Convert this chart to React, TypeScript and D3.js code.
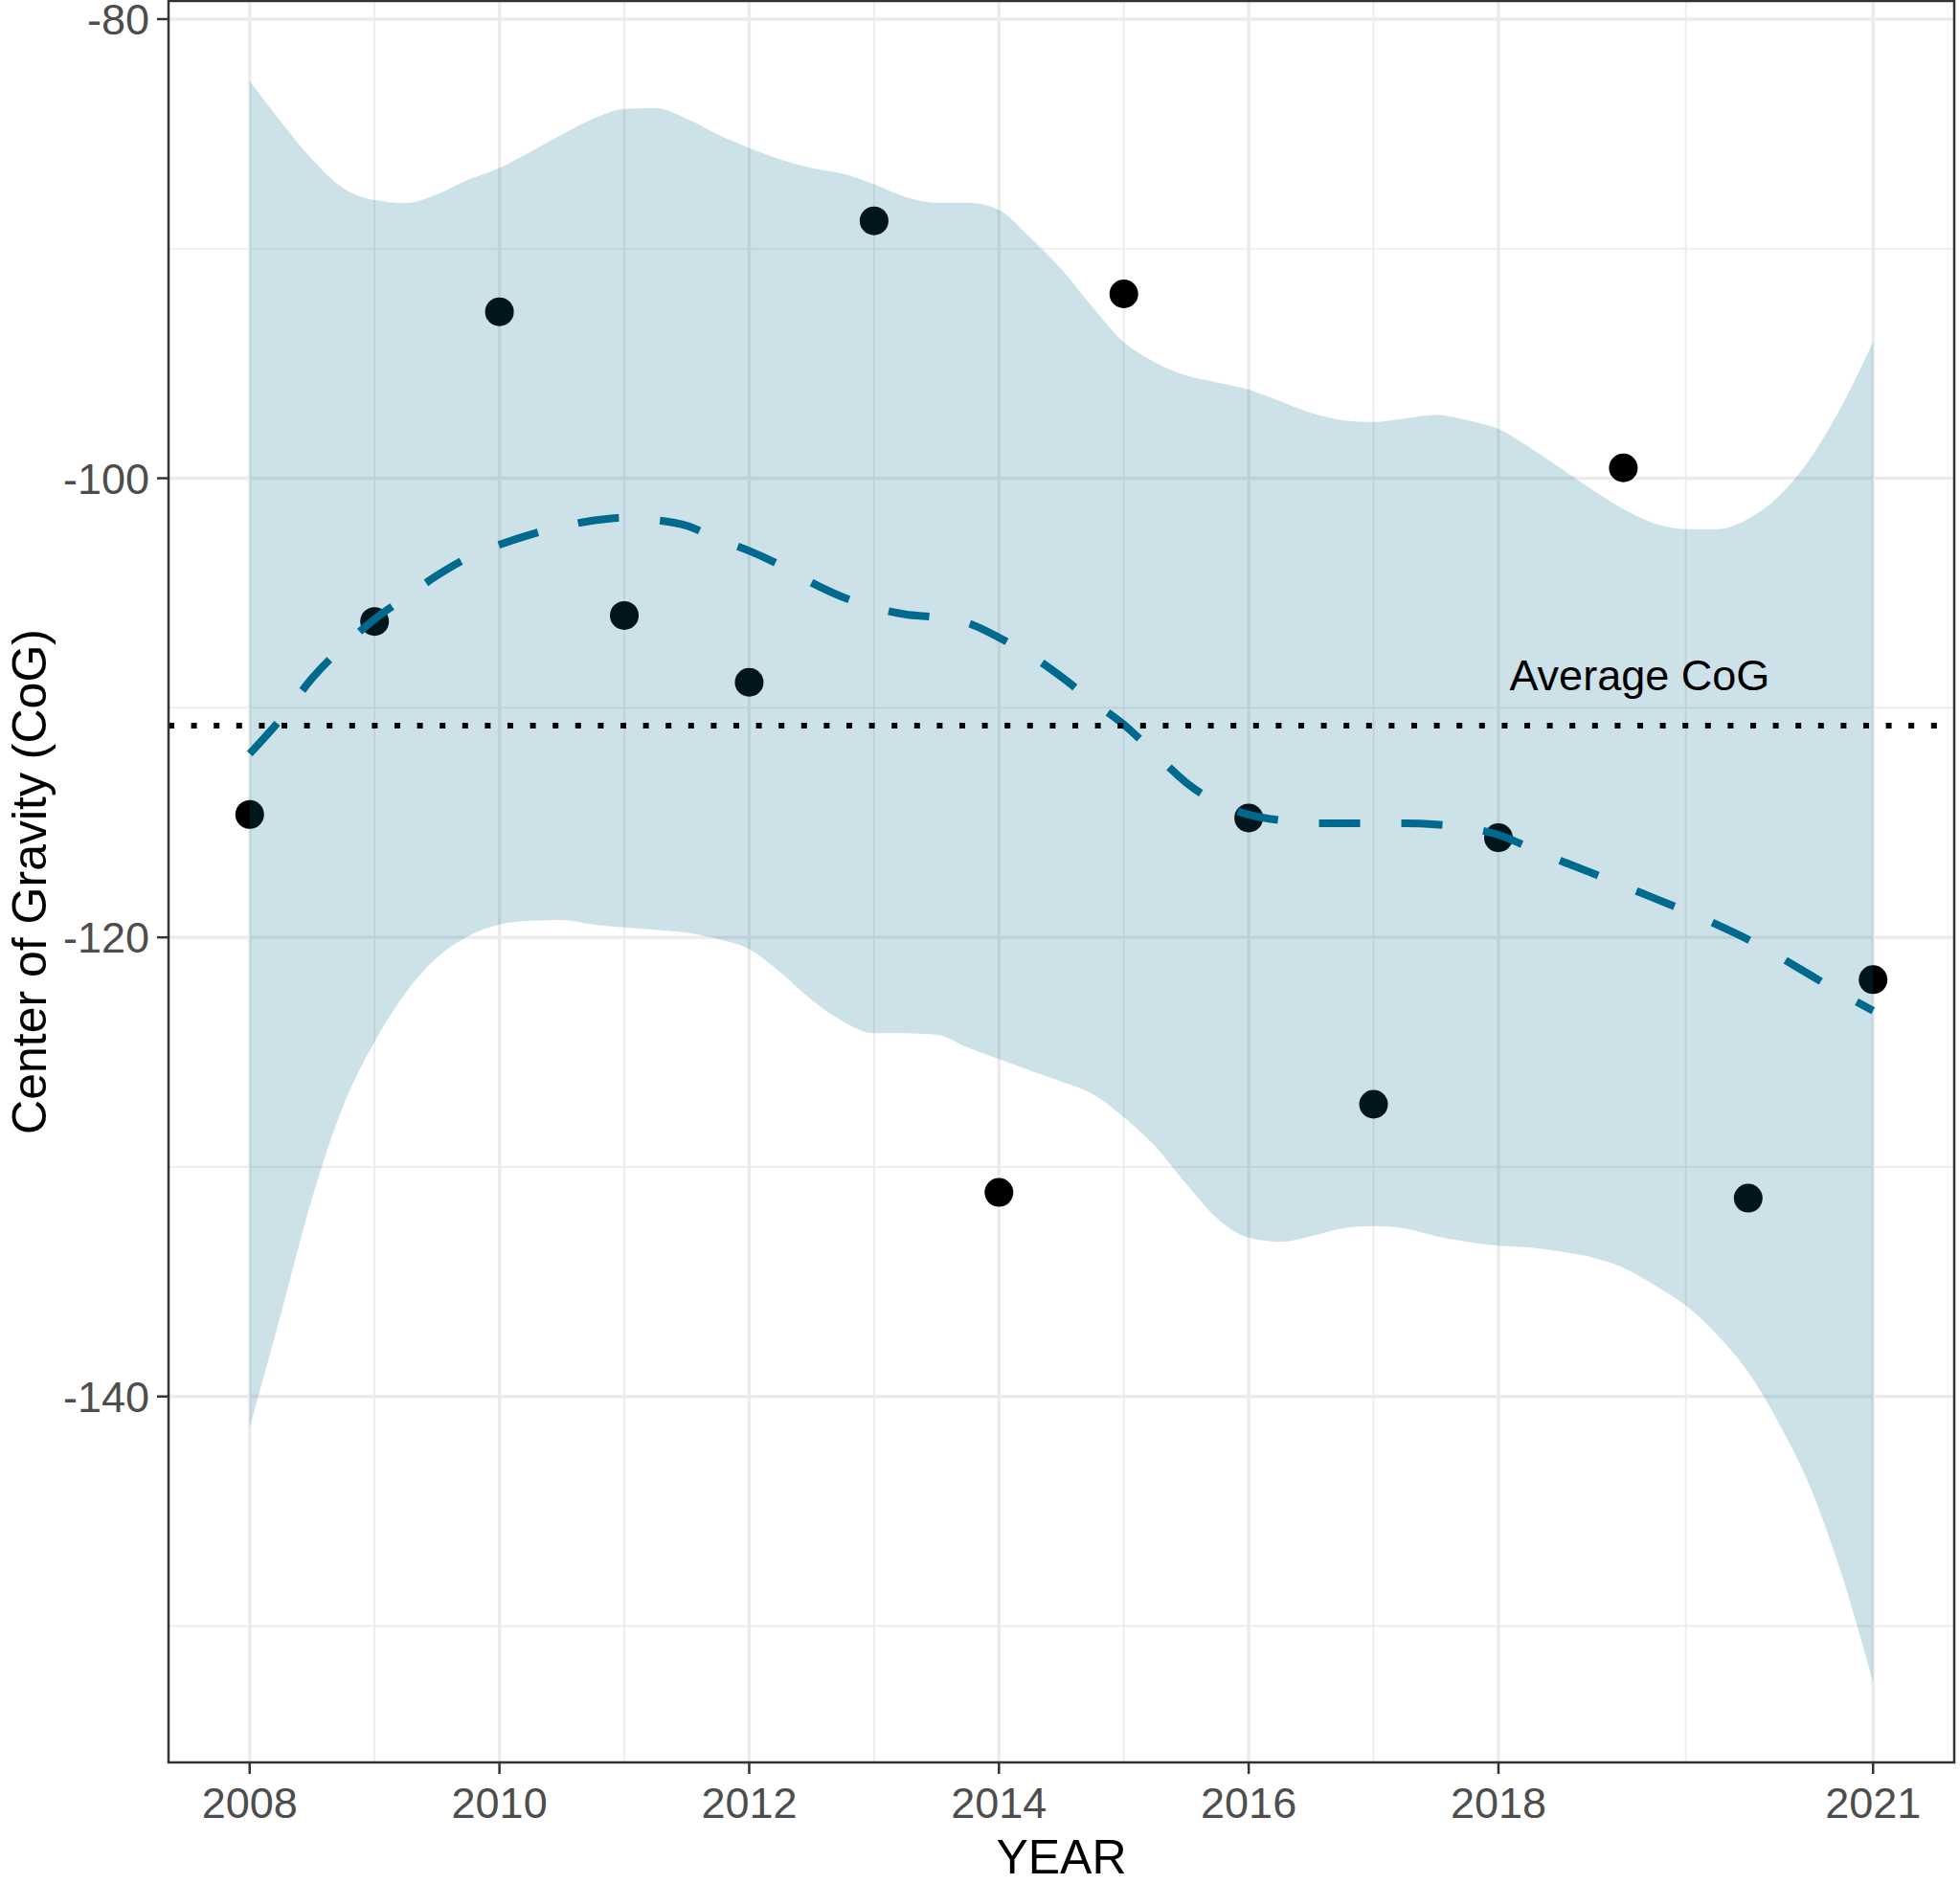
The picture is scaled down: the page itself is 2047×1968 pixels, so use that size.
import * as d3 from "d3";
import { useEffect, useRef } from "react";

// observed centre of gravity per year
const years = [2008, 2009, 2010, 2011, 2012, 2013, 2014, 2015, 2016, 2017, 2018, 2019, 2020, 2021];
const cogValues = [-114.65, -106.24, -92.75, -105.98, -108.89, -88.79, -131.11, -91.97, -114.8, -127.27, -115.66, -99.55, -131.36, -121.84];

// loess smooth (quarter-year samples)
const smoothYears = [
    2008, 2008.25, 2008.5, 2008.75, 2009, 2009.25, 2009.5, 2009.75,
    2010, 2010.25, 2010.5, 2010.75, 2011, 2011.25, 2011.5, 2011.75,
    2012, 2012.25, 2012.5, 2012.75, 2013, 2013.25, 2013.5, 2013.75,
    2014, 2014.25, 2014.5, 2014.75, 2015, 2015.25, 2015.5, 2015.75,
    2016, 2016.25, 2016.5, 2016.75, 2017, 2017.25, 2017.5, 2017.75,
    2018, 2018.25, 2018.5, 2018.75, 2019, 2019.25, 2019.5, 2019.75,
    2020, 2020.25, 2020.5, 2020.75, 2021,
];
const smoothFit = [
    -112.0, -110.48, -108.71, -107.32, -106.14, -105.18, -104.24, -103.46,
    -102.9, -102.45, -102.1, -101.84, -101.72, -101.82, -102.07, -102.65,
    -103.16, -103.79, -104.55, -105.18, -105.63, -105.93, -106.06, -106.31,
    -106.94, -107.7, -108.65, -109.72, -110.73, -112.0, -113.26, -114.14,
    -114.65, -114.9, -115.03, -115.03, -115.03, -115.03, -115.08, -115.23,
    -115.53, -116.09, -116.67, -117.2, -117.75, -118.3, -118.85, -119.45,
    -120.1, -120.85, -121.65, -122.45, -123.2,
];
const smoothUpper = [
    -82.7, -84.47, -86.11, -87.37, -87.88, -88.01, -87.63, -87.0,
    -86.49, -85.78, -85.03, -84.34, -83.91, -83.88, -84.34, -85.03,
    -85.61, -86.11, -86.49, -86.74, -87.2, -87.75, -88.0, -88.0,
    -88.31, -89.52, -90.9, -92.55, -94.07, -94.95, -95.53, -95.83,
    -96.14, -96.64, -97.15, -97.47, -97.55, -97.4, -97.25, -97.47,
    -97.85, -98.66, -99.57, -100.5, -101.34, -101.97, -102.22, -102.22,
    -101.77, -100.76, -99.12, -96.84, -94.07,
];
const smoothLower = [
    -141.34, -136.41, -131.36, -127.32, -124.55, -122.4, -120.88, -119.95,
    -119.44, -119.27, -119.24, -119.44, -119.57, -119.67, -119.8, -120.08,
    -120.51, -121.52, -122.73, -123.66, -124.17, -124.17, -124.24, -124.8,
    -125.3, -125.8, -126.28, -126.82, -127.83, -129.09, -130.73, -132.25,
    -133.08, -133.26, -133.01, -132.68, -132.58, -132.68, -133.01, -133.26,
    -133.43, -133.51, -133.69, -133.94, -134.39, -135.15, -136.04, -137.3,
    -138.94, -141.21, -143.99, -147.78, -152.45,
];

const xTicks = [2008, 2010, 2012, 2014, 2016, 2018, 2021];
const xMinorTicks = [2009, 2011, 2013, 2015, 2017, 2019.5];
const yTicks = [-80, -100, -120, -140];
const yMinorTicks = [-90, -110, -130, -150];

const avgLabel = "Average CoG";
const avgLabelYear = 2019.13;
const avgLabelValue = -109.25;

const WIDTH = 2047;
const HEIGHT = 1968;
const FONT = "'Liberation Sans', Arial, sans-serif";
const SMOOTH_COLOR = "#006a8e";

function drawChart(svgElement: SVGSVGElement) {
    const svg = d3.select(svgElement);
    svg.selectAll("*").remove();

    const panel = { left: 176, right: 2041, top: 1, bottom: 1841 };

    const x = d3.scaleLinear().domain([2007.35, 2021.65]).range([panel.left, panel.right]);
    const y = d3.scaleLinear().domain([-155.94, -79.21]).range([panel.bottom, panel.top]);

    svg.append("rect").attr("width", WIDTH).attr("height", HEIGHT).attr("fill", "#ffffff");

    // Grid lines
    const grid = svg.append("g");
    grid.selectAll(".xminor")
        .data(xMinorTicks)
        .join("line")
        .attr("x1", (d) => x(d))
        .attr("x2", (d) => x(d))
        .attr("y1", panel.top)
        .attr("y2", panel.bottom)
        .attr("stroke", "#ebebeb")
        .attr("stroke-width", 1.7);
    grid.selectAll(".yminor")
        .data(yMinorTicks)
        .join("line")
        .attr("x1", panel.left)
        .attr("x2", panel.right)
        .attr("y1", (d) => y(d))
        .attr("y2", (d) => y(d))
        .attr("stroke", "#ebebeb")
        .attr("stroke-width", 1.7);
    grid.selectAll(".xmajor")
        .data(xTicks)
        .join("line")
        .attr("x1", (d) => x(d))
        .attr("x2", (d) => x(d))
        .attr("y1", panel.top)
        .attr("y2", panel.bottom)
        .attr("stroke", "#ebebeb")
        .attr("stroke-width", 3.4);
    grid.selectAll(".ymajor")
        .data(yTicks)
        .join("line")
        .attr("x1", panel.left)
        .attr("x2", panel.right)
        .attr("y1", (d) => y(d))
        .attr("y2", (d) => y(d))
        .attr("stroke", "#ebebeb")
        .attr("stroke-width", 3.4);

    // Points (under the ribbon, like ggplot draws them)
    svg.append("g")
        .selectAll("circle")
        .data(years)
        .join("circle")
        .attr("cx", (d) => x(d))
        .attr("cy", (_, i) => y(cogValues[i]))
        .attr("r", 15)
        .attr("fill", "#000000");

    // Confidence ribbon
    const band = d3
        .area<number>()
        .x((d) => x(d))
        .y0((_, i) => y(smoothLower[i]))
        .y1((_, i) => y(smoothUpper[i]))
        .curve(d3.curveMonotoneX);
    svg.append("path")
        .datum(smoothYears)
        .attr("d", band)
        .attr("fill", SMOOTH_COLOR)
        .attr("fill-opacity", 0.2);

    // Smooth line
    const line = d3
        .line<number>()
        .x((d) => x(d))
        .y((_, i) => y(smoothFit[i]))
        .curve(d3.curveMonotoneX);
    svg.append("path")
        .datum(smoothYears)
        .attr("d", line)
        .attr("fill", "none")
        .attr("stroke", SMOOTH_COLOR)
        .attr("stroke-width", 8)
        .attr("stroke-dasharray", "43 43");

    // Average line
    const avg = d3.mean(cogValues) ?? 0;
    svg.append("line")
        .attr("x1", panel.left)
        .attr("x2", panel.right)
        .attr("y1", y(avg))
        .attr("y2", y(avg))
        .attr("stroke", "#000000")
        .attr("stroke-width", 6)
        .attr("stroke-dasharray", "6 17.6");

    svg.append("text")
        .attr("x", x(avgLabelYear))
        .attr("y", y(avgLabelValue))
        .attr("text-anchor", "middle")
        .style("font-family", FONT)
        .style("font-size", "45px")
        .style("fill", "#000000")
        .text(avgLabel);

    // Panel border
    svg.append("rect")
        .attr("x", panel.left)
        .attr("y", panel.top)
        .attr("width", panel.right - panel.left)
        .attr("height", panel.bottom - panel.top)
        .attr("fill", "none")
        .attr("stroke", "#333333")
        .attr("stroke-width", 2.5);

    // X axis
    const xAxis = svg.append("g");
    xAxis.selectAll("line")
        .data(xTicks)
        .join("line")
        .attr("x1", (d) => x(d))
        .attr("x2", (d) => x(d))
        .attr("y1", panel.bottom)
        .attr("y2", panel.bottom + 12)
        .attr("stroke", "#333333")
        .attr("stroke-width", 2.5);
    xAxis.selectAll("text")
        .data(xTicks)
        .join("text")
        .attr("x", (d) => x(d))
        .attr("y", 1899)
        .attr("text-anchor", "middle")
        .style("font-family", FONT)
        .style("font-size", "45px")
        .style("fill", "#4d4d4d")
        .text((d) => String(d));

    // Y axis
    const yAxis = svg.append("g");
    yAxis.selectAll("line")
        .data(yTicks)
        .join("line")
        .attr("x1", panel.left - 12)
        .attr("x2", panel.left)
        .attr("y1", (d) => y(d))
        .attr("y2", (d) => y(d))
        .attr("stroke", "#333333")
        .attr("stroke-width", 2.5);
    yAxis.selectAll("text")
        .data(yTicks)
        .join("text")
        .attr("x", 156)
        .attr("y", (d) => y(d))
        .attr("dy", "0.36em")
        .attr("text-anchor", "end")
        .style("font-family", FONT)
        .style("font-size", "45px")
        .style("fill", "#4d4d4d")
        .text((d) => String(d));

    // Axis titles
    svg.append("text")
        .attr("x", (panel.left + panel.right) / 2)
        .attr("y", 1957)
        .attr("text-anchor", "middle")
        .style("font-family", FONT)
        .style("font-size", "50px")
        .style("fill", "#000000")
        .text("YEAR");

    svg.append("text")
        .attr("transform", `translate(48, ${(panel.top + panel.bottom) / 2}) rotate(-90)`)
        .attr("text-anchor", "middle")
        .style("font-family", FONT)
        .style("font-size", "50px")
        .style("fill", "#000000")
        .text("Center of Gravity (CoG)");
}

export default function App() {
    const chartRef = useRef<SVGSVGElement | null>(null);

    useEffect(() => {
        if (chartRef.current) {
            drawChart(chartRef.current);
        }
    }, []);

    return (
        <svg
            ref={chartRef}
            width={WIDTH}
            height={HEIGHT}
            style={{ position: "absolute", left: 0, top: 0, display: "block" }}
        ></svg>
    );
}
